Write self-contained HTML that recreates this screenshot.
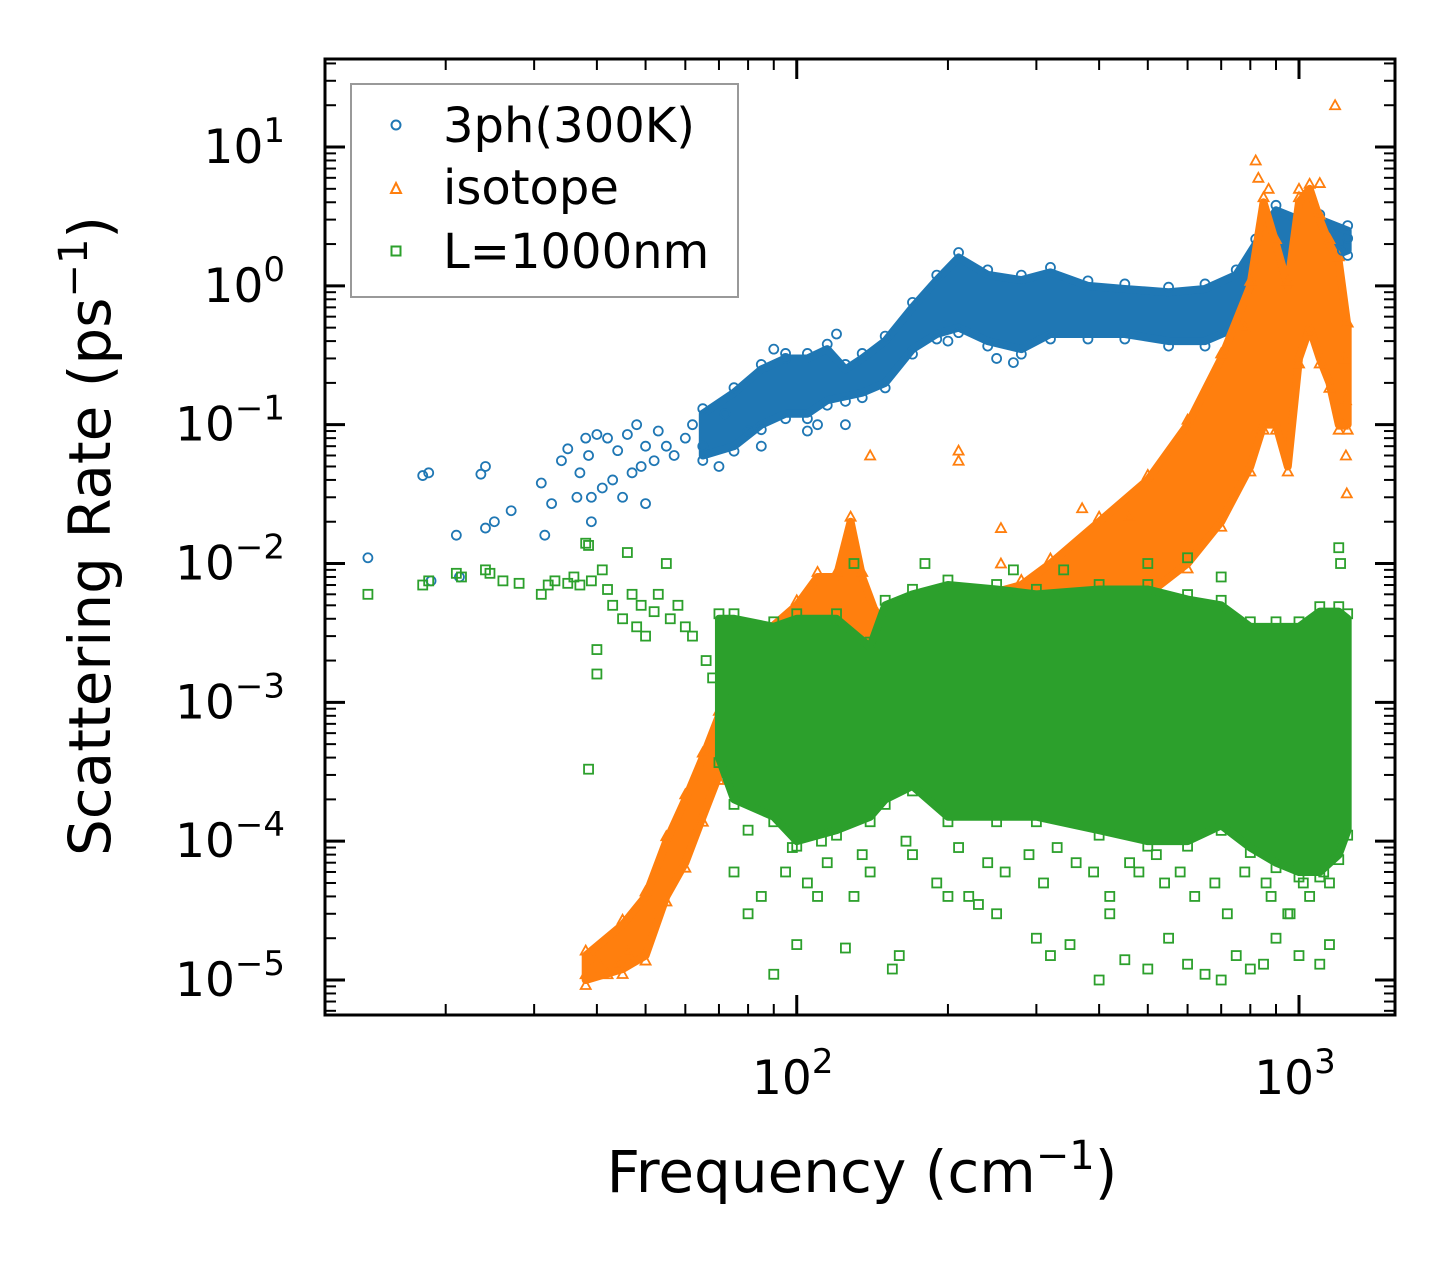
<!DOCTYPE html>
<html><head><meta charset="utf-8"><style>
html,body{margin:0;padding:0;background:#fff}
svg{display:block;font-family:"DejaVu Sans","Liberation Sans",sans-serif}
</style></head><body>
<svg id="chart" width="1455" height="1265" viewBox="0 0 1455 1265" xmlns="http://www.w3.org/2000/svg">
<g id="bands"></g><g id="marks"></g><g id="axes"></g>
<g id="legend">
<rect x="351" y="84" width="387" height="213" fill="#fff" stroke="#999" stroke-width="2"/>
<circle cx="396" cy="125" r="4.5" fill="none" stroke="#1f77b4" stroke-width="2"/>
<text x="443" y="142" font-size="48">3ph(300K)</text>
<polygon points="396,183 401,193 391,193" fill="none" stroke="#ff7f0e" stroke-width="2"/>
<text x="443" y="204" font-size="48">isotope</text>
<rect x="391.5" y="246.5" width="9" height="9" fill="none" stroke="#2ca02c" stroke-width="2"/>
<text x="443" y="268" font-size="48">L=1000nm</text>
</g>
<text x="862" y="1192" font-size="58" text-anchor="middle">Frequency (cm<tspan dy="-23" font-size="40">−1</tspan><tspan dy="23">)</tspan></text>
<text transform="translate(110,536) rotate(-90)" font-size="58" text-anchor="middle">Scattering Rate (ps<tspan dy="-23" font-size="40">−1</tspan><tspan dy="23">)</tspan></text>
</svg>
<script>
// ---- data ----
const blueBandFreq=[65,75,85,95,105,115,125,135,150,170,190,210,240,280,320,380,450,550,650,750,820,900,1000,1100,1250];
const blueBandLo=[0.06,0.07,0.1,0.12,0.12,0.15,0.16,0.17,0.2,0.35,0.45,0.5,0.4,0.35,0.45,0.45,0.45,0.4,0.4,0.5,0.8,1.4,1.6,1.5,1.8];
const blueBandHi=[0.12,0.17,0.25,0.3,0.3,0.35,0.25,0.3,0.4,0.7,1.1,1.6,1.2,1.1,1.25,1.0,0.95,0.9,0.95,1.2,2.0,3.5,3.0,3.0,2.5];
const blueFreq=[14,18,18.5,18.7,21,21.3,23.5,24,24,25,27,31,31.5,32.5,34,35,36.5,37,38,38.5,39,39,40,41,42,43,44,45,46,47,48,49,50,50,52,53,55,57,60,62,65,70,72,80,85,90,95,105,110,120,125,200,250,270,1220,1250];
const blueVal=[0.011,0.043,0.045,0.0075,0.016,0.008,0.044,0.05,0.018,0.02,0.024,0.038,0.016,0.027,0.055,0.067,0.03,0.045,0.08,0.06,0.02,0.03,0.085,0.035,0.08,0.04,0.065,0.03,0.085,0.045,0.1,0.05,0.027,0.07,0.055,0.09,0.07,0.06,0.08,0.1,0.07,0.05,0.12,0.09,0.07,0.35,0.3,0.09,0.1,0.45,0.1,0.4,0.3,0.28,1.8,2.2];
const orangeBandFreq=[38,45,50,55,60,65,70,75,85,100,110,120,128,135,145,160,200,280,320,400,500,600,700,800,850,900,950,1000,1050,1100,1150,1200,1250];
const orangeBandLo=[1e-5,1.2e-5,1.5e-5,4e-5,7e-5,1.5e-4,3e-4,5e-4,8e-4,1e-3,1.5e-3,1.5e-3,2e-3,2e-3,2e-3,1.5e-3,2e-3,2e-3,3e-3,4e-3,6e-3,1e-2,2e-2,5e-2,0.1,0.1,0.05,0.3,0.5,0.3,0.2,0.1,0.1];
const orangeBandHi=[1.5e-5,2.5e-5,4e-5,1e-4,2e-4,4e-4,8e-4,1.5e-3,3e-3,5e-3,8e-3,8e-3,2e-2,8e-3,4e-3,3e-3,5e-3,7e-3,1e-2,2e-2,4e-2,0.1,0.3,1,4,2,1,4,5,3,2,1.5,0.5];
const orangeFreq=[38,40,42,44,46,140,210,210,255,255,370,460,600,780,820,830,870,1000,1100,1180,1220,1240,1245,1240,1230];
const orangeVal=[1.1e-5,1.4e-5,1.1e-5,1.3e-5,1.6e-5,0.06,0.065,0.055,0.018,0.01,0.025,0.022,0.1,0.5,8,6,5,5,5.5,20,0.1,0.06,0.032,0.15,0.3];
const greenBandFreq=[70,75,90,100,120,140,150,170,200,250,300,400,500,600,700,800,900,1000,1100,1200,1250];
const greenBandLo=[4e-4,2e-4,1.5e-4,1e-4,1.2e-4,1.5e-4,2e-4,2.5e-4,1.5e-4,1.5e-4,1.5e-4,1.2e-4,1e-4,1e-4,1.3e-4,9e-5,7e-5,6e-5,6e-5,8e-5,1.2e-4];
const greenBandHi=[4e-3,4e-3,3.5e-3,4e-3,4e-3,2.5e-3,5e-3,6e-3,7e-3,6.5e-3,6e-3,6.5e-3,6.5e-3,5.5e-3,5e-3,3.5e-3,3.5e-3,3.5e-3,4.5e-3,4.5e-3,4e-3];
const greenFreq=[14,18,18.5,21,21.5,24,24.5,26,28,31,32,33,35,36,37,38,38.5,39,40,40,41,42,43,45,46,47,48,49,50,52,53,55,56,58,60,62,38.5,75,80,85,90,100,110,125,130,155,160,200,230,250,300,320,350,400,420,450,500,550,600,650,700,750,800,850,900,950,1000,1100,1150,1200,1210,130,180,270,340,500,600,700,95,105,115,140,170,190,220,260,310,360,420,480,540,620,720,860,960,1050,1150,80,98,112,135,165,210,240,290,330,390,460,520,580,680,780,880,1020,1120,66,68,72];
const greenVal=[0.006,0.007,0.0075,0.0085,0.008,0.009,0.0085,0.0075,0.0072,0.006,0.007,0.0075,0.0072,0.008,0.007,0.014,0.0135,0.0075,0.0024,0.0016,0.009,0.0065,0.005,0.004,0.012,0.006,0.0035,0.005,0.003,0.0045,0.006,0.01,0.004,0.005,0.0035,0.003,0.00033,6e-5,3e-5,4e-5,1.1e-5,1.8e-5,4e-5,1.7e-5,4e-5,1.2e-5,1.5e-5,4e-5,3.5e-5,3e-5,2e-5,1.5e-5,1.8e-5,1e-5,3e-5,1.4e-5,1.2e-5,2e-5,1.3e-5,1.1e-5,1e-5,1.5e-5,1.2e-5,1.3e-5,2e-5,3e-5,1.5e-5,1.3e-5,1.8e-5,0.013,0.01,0.01,0.01,0.009,0.009,0.01,0.011,0.008,6e-5,5e-5,7e-5,6e-5,8e-5,5e-5,4e-5,6e-5,5e-5,7e-5,4e-5,6e-5,5e-5,4e-5,3e-5,5e-5,3e-5,4e-5,5e-5,1.2e-4,9e-5,1e-4,8e-5,1e-4,9e-5,7e-5,8e-5,9e-5,6e-5,7e-5,8e-5,6e-5,5e-5,6e-5,4e-5,5e-5,6e-5,0.002,0.0015,0.0012];
const xTickVals=[100,1000];
const xTickLabels=["2","3"];
const yTickVals=[1e1,1e0,1e-1,1e-2,1e-3,1e-4,1e-5];
const yTickLabels=["1","0","−1","−2","−3","−4","−5"];

// ---- axes ----
const L=325,R=1395,T=59,B=1015;
const xmin=Math.log10(11.5),xmax=Math.log10(1553),ymin=-5.252,ymax=1.634;
const X=v=>L+(Math.log10(v)-xmin)/(xmax-xmin)*(R-L);
const Y=v=>B-(Math.log10(v)-ymin)/(ymax-ymin)*(B-T);
const NS="http://www.w3.org/2000/svg";
const mk=(t,a,p)=>{const e=document.createElementNS(NS,t);for(const k in a)e.setAttribute(k,a[k]);p.appendChild(e);return e;};
const bands=document.getElementById('bands'),marks=document.getElementById('marks'),axes=document.getElementById('axes');
const cols={b:'#1f77b4',o:'#ff7f0e',g:'#2ca02c'};
const layers={b:mk('g',{},bands),o:mk('g',{},bands),g:mk('g',{},bands)};
function marker(kind,x,y,parent){
  let e;
  if(kind==='b')e=mk('circle',{cx:x,cy:y,r:4.5,fill:'none',stroke:cols.b,'stroke-width':1.8},parent);
  else if(kind==='o')e=mk('polygon',{points:`${x},${y-5} ${x+5},${y+4} ${x-5},${y+4}`,fill:'none',stroke:cols.o,'stroke-width':1.8},parent);
  else e=mk('rect',{x:x-4.5,y:y-4.5,width:9,height:9,fill:'none',stroke:cols.g,'stroke-width':1.8},parent);
  return e;
}
function band(kind,fr,lo,hi,name){
  const g=layers[kind];
  let pts=fr.map((f,i)=>X(f)+','+Y(hi[i]));
  for(let i=fr.length-1;i>=0;i--)pts.push(X(fr[i])+','+Y(lo[i]));
  const p=mk('polygon',{points:pts.join(' '),fill:cols[kind],stroke:cols[kind],'stroke-width':8,'stroke-linejoin':'round'},g);
  
  
  fr.forEach((f,i)=>{
    const a=marker(kind,X(f),Y(hi[i])-5,g);
    
    
    const b=marker(kind,X(f),Y(lo[i])+5,g);
    
    
  });
}
band('b',blueBandFreq,blueBandLo,blueBandHi,'3ph-dense-band');
band('o',orangeBandFreq,orangeBandLo,orangeBandHi,'isotope-dense-band');
band('g',greenBandFreq,greenBandLo,greenBandHi,'boundary-dense-band');
function scatter(kind,fr,val,name){
  fr.forEach((f,i)=>{const e=marker(kind,X(f),Y(val[i]),marks);
    
    });
}
scatter('b',blueFreq,blueVal,'3ph-point');
scatter('o',orangeFreq,orangeVal,'isotope-point');
scatter('g',greenFreq,greenVal,'boundary-point');

// frame
const fr=mk('rect',{x:L,y:T,width:R-L,height:B-T,fill:'none',stroke:'#000','stroke-width':3},axes);


for(let d=1;d<=3;d++)for(let m=1;m<=9;m++){const v=m*Math.pow(10,d);const x=X(v);if(x<L||x>R)continue;
  const len=m===1?20:11;
  const t1=mk('line',{x1:x,x2:x,y1:B,y2:B-len,stroke:'#000','stroke-width':m===1?3:2},axes);
  
  
  mk('line',{x1:x,x2:x,y1:T,y2:T+len,stroke:'#000','stroke-width':m===1?3:2},axes);}
for(let d=-6;d<=1;d++)for(let m=1;m<=9;m++){const v=m*Math.pow(10,d);const y=Y(v);if(y<T||y>B)continue;
  const len=m===1?20:11;
  const t2=mk('line',{x1:L,x2:L+len,y1:y,y2:y,stroke:'#000','stroke-width':m===1?3:2},axes);
  
  
  mk('line',{x1:R,x2:R-len,y1:y,y2:y,stroke:'#000','stroke-width':m===1?3:2},axes);}
xTickVals.forEach((v,i)=>{const t=mk('text',{x:X(v)-4,y:1094,'font-size':47,'text-anchor':'middle'},axes);
  
  
  t.innerHTML='10<tspan dy="-21" font-size="34">'+xTickLabels[i]+'</tspan>';});
yTickVals.forEach((v,i)=>{const t=mk('text',{x:285,y:Y(v)+16,'font-size':47,'text-anchor':'end'},axes);
  
  
  t.innerHTML='10<tspan dy="-21" font-size="34">'+yTickLabels[i]+'</tspan>';});
</script>
</body></html>
